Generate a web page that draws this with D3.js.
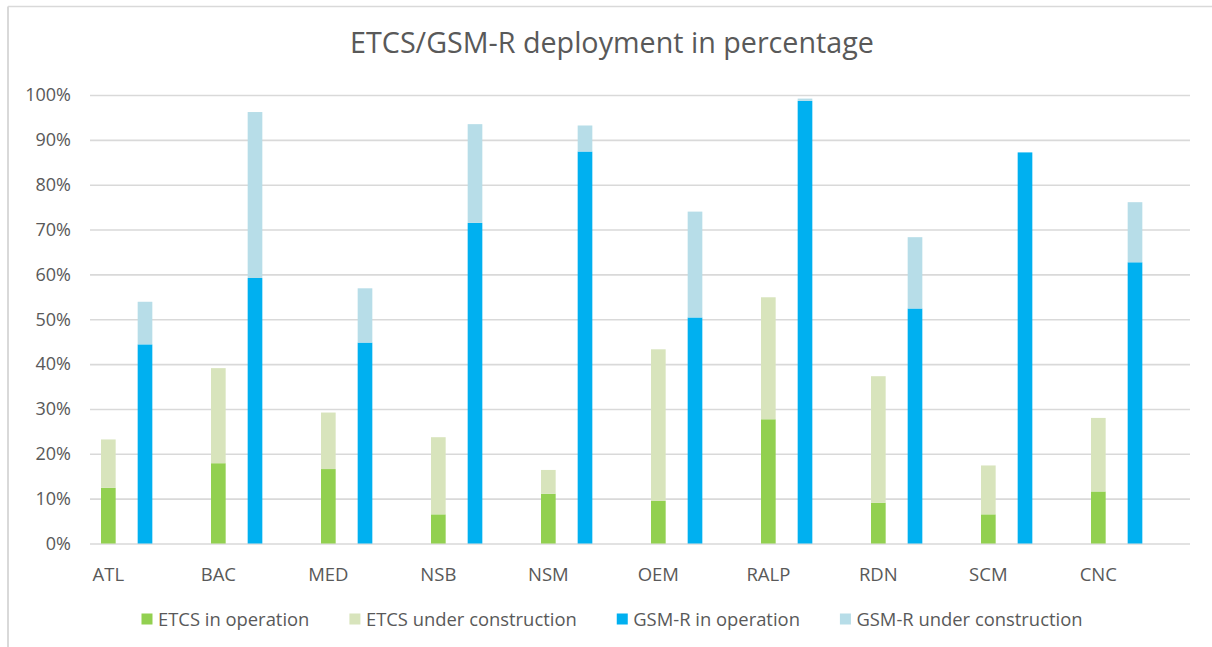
<!DOCTYPE html>
<html>
<head>
<meta charset="utf-8">
<script src="https://cdn.jsdelivr.net/npm/d3@7"></script>
<style>
  html, body { margin: 0; padding: 0; background: #ffffff; }
  svg { display: block; }
  text { font-family: "Open Sans", "Noto Sans", sans-serif; fill: #595959; }
</style>
</head>
<body>
<svg id="chart" width="1212" height="647"></svg>
<script>
const categories = ["ATL", "BAC", "MED", "NSB", "NSM", "OEM", "RALP", "RDN", "SCM", "CNC"];
const etcsOperation    = [12.4, 17.9, 16.6, 6.5, 11.1, 9.5, 27.7, 9.1, 6.5, 11.6];
const etcsConstruction = [10.8, 21.2, 12.6, 17.2, 5.3, 33.8, 27.2, 28.2, 10.9, 16.4];
const gsmrOperation    = [44.4, 59.2, 44.8, 71.5, 87.4, 50.4, 98.7, 52.4, 87.2, 62.7];
const gsmrConstruction = [9.5, 37.0, 12.1, 22.0, 5.8, 23.6, 0.5, 15.9, 0.0, 13.4];
const yTicks = [0, 10, 20, 30, 40, 50, 60, 70, 80, 90, 100];
const seriesNames = ["ETCS in operation", "ETCS under construction", "GSM-R in operation", "GSM-R under construction"];
const titleText = "ETCS/GSM-R deployment in percentage";

const colors = {
  "ETCS in operation": "#92d050",
  "ETCS under construction": "#d8e4bc",
  "GSM-R in operation": "#00b0f0",
  "GSM-R under construction": "#b7dde8"
};

const svg = d3.select("#chart");
const W = 1212, H = 647;
const plot = { left: 90, right: 1190, top: 95, bottom: 543.5 };

// chart frame (top and left edges visible)
svg.append("line").attr("x1", 8).attr("x2", W).attr("y1", 6.5).attr("y2", 6.5)
  .attr("stroke", "#d9d9d9").attr("stroke-width", 1.5);
svg.append("line").attr("x1", 8).attr("x2", 8).attr("y1", 6.5).attr("y2", H)
  .attr("stroke", "#d9d9d9").attr("stroke-width", 2);

// scales
const x = d3.scaleBand().domain(categories).range([plot.left, plot.right]).padding(0);
const sub = d3.scaleBand().domain(["ETCS", "GSM-R", "blank"]).range([0, x.bandwidth()])
  .paddingInner(0.6).paddingOuter(0.3);
const y = d3.scaleLinear().domain([0, 100]).range([plot.bottom, plot.top]);

// gridlines + y labels
const yAxis = d3.axisLeft(y).tickValues(yTicks).tickFormat(d => d + "%")
  .tickSize(-(plot.right - plot.left)).tickPadding(19);
const gy = svg.append("g").attr("transform", `translate(${plot.left},0)`).call(yAxis);
gy.select(".domain").remove();
gy.selectAll(".tick line").attr("stroke", "#d9d9d9").attr("stroke-width", 1.6);
gy.selectAll(".tick text").attr("font-size", 18).attr("fill", "#595959")
  .style("font-family", '"Open Sans", sans-serif');

// stacked data
const rows = categories.map((c, i) => ({
  category: c,
  stacks: [
    { group: "ETCS", parts: [
      { name: seriesNames[0], v0: 0, v1: etcsOperation[i] },
      { name: seriesNames[1], v0: etcsOperation[i], v1: etcsOperation[i] + etcsConstruction[i] }
    ]},
    { group: "GSM-R", parts: [
      { name: seriesNames[2], v0: 0, v1: gsmrOperation[i] },
      { name: seriesNames[3], v0: gsmrOperation[i], v1: gsmrOperation[i] + gsmrConstruction[i] }
    ]}
  ]
}));

const bars = svg.append("g");
rows.forEach(r => {
  r.stacks.forEach(s => {
    s.parts.forEach(p => {
      if (p.v1 - p.v0 <= 0) return;
      bars.append("rect")
        .attr("x", x(r.category) + sub(s.group))
        .attr("width", sub.bandwidth())
        .attr("y", y(p.v1))
        .attr("height", y(p.v0) - y(p.v1))
        .attr("fill", colors[p.name]);
    });
  });
});

// x axis labels, centred under the ETCS column of each corridor
const labelOffset = sub("ETCS") + sub.bandwidth() / 2 - x.bandwidth() / 2;
const xAxis = d3.axisBottom(x).tickSize(0).tickPadding(24);
const gx = svg.append("g").attr("transform", `translate(${labelOffset},${plot.bottom})`).call(xAxis);
gx.select(".domain").remove();
gx.selectAll(".tick text").attr("font-size", 18.5).attr("fill", "#595959")
  .style("font-family", '"Open Sans", sans-serif');

// title
const title = svg.append("text").attr("x", 612).attr("y", 53)
  .attr("text-anchor", "middle").attr("font-size", 24).attr("fill", "#595959")
  .text(titleText);
const tw = title.node().getComputedTextLength();
title.attr("font-size", 24 * 524 / tw);

// legend
const legend = svg.append("g");
const sq = 11, gapSq = 5.5, gapItem = 40, legendFs = 18.4;
let items = seriesNames.map(n => {
  const t = legend.append("text").attr("font-size", legendFs).attr("y", 625.5).text(n);
  return { name: n, t, w: t.node().getComputedTextLength() };
});
const total = d3.sum(items, d => sq + gapSq + d.w) + gapItem * (items.length - 1);
let cx = 612 - total / 2;
items.forEach(it => {
  legend.append("rect").attr("x", cx).attr("y", 613.5).attr("width", sq).attr("height", sq)
    .attr("fill", colors[it.name]);
  it.t.attr("x", cx + sq + gapSq);
  cx += sq + gapSq + it.w + gapItem;
});
</script>
</body>
</html>
